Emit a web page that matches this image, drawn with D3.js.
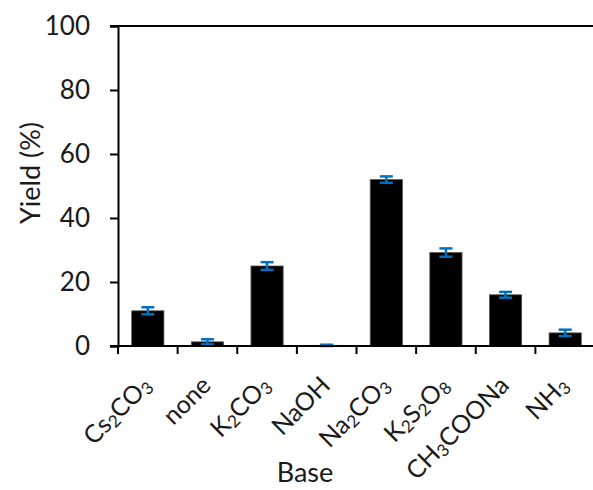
<!DOCTYPE html>
<html>
<head>
<meta charset="utf-8">
<script src="https://cdn.jsdelivr.net/npm/d3@7"></script>
<style>
  body { margin: 0; background: #fff; }
  text { font-family: Lato, "Open Sans", sans-serif; fill: #1a1a1a; }
</style>
</head>
<body>
<div id="chart"></div>
<script>
// data ("_n" marks a subscript digit)
const bases = ["Cs_2CO_3", "none", "K_2CO_3", "NaOH", "Na_2CO_3", "K_2S_2O_8", "CH_3COONa", "NH_3"];
const yields = [11, 1.3, 25, 0.2, 52, 29.2, 16, 4.1];
const errors = [1.1, 0.8, 1.2, 0.2, 1, 1.3, 0.9, 1];
const yTicks = [0, 20, 40, 60, 80, 100];

const width = 593, height = 490;

const svg = d3.select("#chart")
  .append("svg")
  .attr("width", width)
  .attr("height", height);

const x = d3.scaleBand()
  .domain(bases)
  .range([118, 595])
  .paddingInner(0.46)
  .paddingOuter(0.23);

const y = d3.scaleLinear()
  .domain([0, 100])
  .range([346, 26]);

// top border line
svg.append("line")
  .attr("x1", 110).attr("x2", width)
  .attr("y1", y(100)).attr("y2", y(100))
  .attr("stroke", "#000").attr("stroke-width", 2);

// bars
svg.selectAll(".bar")
  .data(bases)
  .join("rect")
  .attr("class", "bar")
  .attr("x", d => x(d))
  .attr("width", x.bandwidth())
  .attr("y", (d, i) => y(yields[i]))
  .attr("height", (d, i) => y(0) - y(yields[i]))
  .attr("fill", "#000")
  .attr("stroke", "#555")
  .attr("stroke-width", 0.8);

// error bars
const err = svg.append("g")
  .attr("stroke", "#0070C0")
  .attr("stroke-width", 2.5);

bases.forEach((b, i) => {
  const cx = x(b) + x.bandwidth() / 2;
  const lo = y(yields[i] - errors[i]), hi = y(yields[i] + errors[i]);
  err.append("line").attr("x1", cx).attr("x2", cx).attr("y1", lo).attr("y2", hi);
  err.append("line").attr("x1", cx - 6.5).attr("x2", cx + 6.5).attr("y1", lo).attr("y2", lo);
  err.append("line").attr("x1", cx - 6.5).attr("x2", cx + 6.5).attr("y1", hi).attr("y2", hi);
});

// y axis
const yAxis = svg.append("g")
  .attr("transform", "translate(118,0)")
  .call(d3.axisLeft(y).tickValues(yTicks).tickSize(8).tickPadding(20));
yAxis.select(".domain").attr("stroke-width", 2);
yAxis.selectAll(".tick line").attr("stroke-width", 2);
yAxis.selectAll(".tick text")
  .attr("font-size", 26)
  .attr("fill", "#1a1a1a");
yAxis.attr("font-family", null);

// x axis: ticks sit between categories
const xAxis = svg.append("g");
xAxis.append("line")
  .attr("x1", 110).attr("x2", width)
  .attr("y1", y(0)).attr("y2", y(0))
  .attr("stroke", "#000").attr("stroke-width", 2);
xAxis.selectAll(".xtick")
  .data(bases)
  .join("line")
  .attr("class", "xtick")
  .attr("x1", d => x(d) - x.step() * x.paddingInner() / 2)
  .attr("x2", d => x(d) - x.step() * x.paddingInner() / 2)
  .attr("y1", y(0)).attr("y2", y(0) + 8)
  .attr("stroke", "#000").attr("stroke-width", 2);

// rotated category labels with subscripts
const labels = xAxis.selectAll(".xlab")
  .data(bases)
  .join("text")
  .attr("class", "xlab")
  .attr("font-size", 25)
  .attr("text-anchor", "end")
  .attr("transform", d => `translate(${x(d) + x.bandwidth() / 2 + 5},387) rotate(-45)`);

labels.each(function(d) {
  const t = d3.select(this);
  const parts = d.split(/(_\d)/).filter(p => p.length);
  let shifted = false;
  parts.forEach(p => {
    if (p[0] === "_") {
      t.append("tspan").text(p.slice(1)).attr("font-size", 17).attr("dy", shifted ? 0 : 3);
      shifted = true;
    } else {
      t.append("tspan").text(p).attr("dy", shifted ? -3 : 0);
      shifted = false;
    }
  });
});

// axis titles
svg.append("text")
  .attr("font-size", 27)
  .attr("text-anchor", "middle")
  .attr("transform", "translate(40,173) rotate(-90)")
  .text("Yield (%)");

svg.append("text")
  .attr("font-size", 27)
  .attr("text-anchor", "middle")
  .attr("x", 305)
  .attr("y", 482)
  .text("Base");
</script>
</body>
</html>
